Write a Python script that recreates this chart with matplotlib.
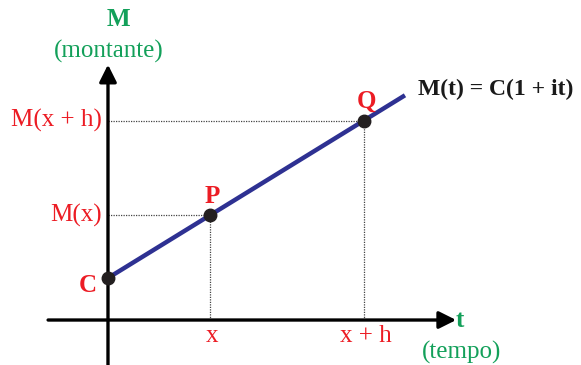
import matplotlib.pyplot as plt

plt.rcParams['font.family'] = ['Liberation Serif', 'DejaVu Serif']

# model M(t) = C(1 + i t)
C = 1.0
i_rate = 0.75
t_points = [2.0, 5.0]          # x, x + h
t_line = [0.0, 5.8]
point_names = ['P', 'Q']
tick_labels = ['x', 'x + h']
ytick_labels = ['M(x)', 'M(x + h)']

green = '#13a05a'
red = '#ec1c24'
blue = '#2e3192'
dark = '#231f20'


def M(t):
    return C * (1 + i_rate * t)


fig = plt.figure(figsize=(5.81, 3.65), dpi=100)
ax = fig.add_axes([0, 0, 1, 1])
ax.set_xlim(-2.109, 9.238)
ax.set_ylim(-1.071, 7.619)
ax.axis('off')

# axes with arrows
ax.annotate('', xy=(6.8, 0), xytext=(-1.17, 0),
            arrowprops=dict(arrowstyle='-|>', lw=2.4, color='black', mutation_scale=26, shrinkA=0, shrinkB=0))
ax.annotate('', xy=(0, 6.08), xytext=(0, -1.1),
            arrowprops=dict(arrowstyle='-|>', lw=2.4, color='black', mutation_scale=26, shrinkA=0, shrinkB=0))

# dotted guides
for t in t_points:
    ax.plot([0, t], [M(t), M(t)], ls=(0, (1, 1)), lw=0.9, color='#444444')
    ax.plot([t, t], [0, M(t)], ls=(0, (1, 1)), lw=0.9, color='#444444')

# the line
ax.plot(t_line, [M(t) for t in t_line], color=blue, lw=3.2, solid_capstyle='butt', zorder=3)
ax.plot([0] + t_points, [M(0)] + [M(t) for t in t_points], 'o', color=dark, ms=9, zorder=4)

fs = 18
ax.text(-0.4, M(0) - 0.17, 'C', color=red, fontsize=fs, fontweight='bold', ha='center', va='center')
for t, name, lab, ylab in zip(t_points, point_names, tick_labels, ytick_labels):
    ax.text(t + 0.04, M(t) + 0.45, name, color=red, fontsize=fs, fontweight='bold', ha='center', va='center')
    ax.text(t + 0.04, -0.38, lab, color=red, fontsize=fs, ha='center', va='center')
    ax.text(-0.12, M(t), ylab, color=red, fontsize=fs, ha='right', va='center')

ax.text(0.2, 7.15, 'M', color=green, fontsize=fs, fontweight='bold', ha='center', va='center')
ax.text(0.02, 6.4, '(montante)', color=green, fontsize=fs, ha='center', va='center')
ax.text(6.88, 0.0, 't', color=green, fontsize=fs, fontweight='bold', ha='center', va='center')
ax.text(6.9, -0.78, '(tempo)', color=green, fontsize=fs, ha='center', va='center')
ax.text(6.05, 5.5, 'M(t) = C(1 + it)', color='#1a1a1a', fontsize=17, fontweight='bold', ha='left', va='center')

fig.savefig('out.png', dpi=100)
